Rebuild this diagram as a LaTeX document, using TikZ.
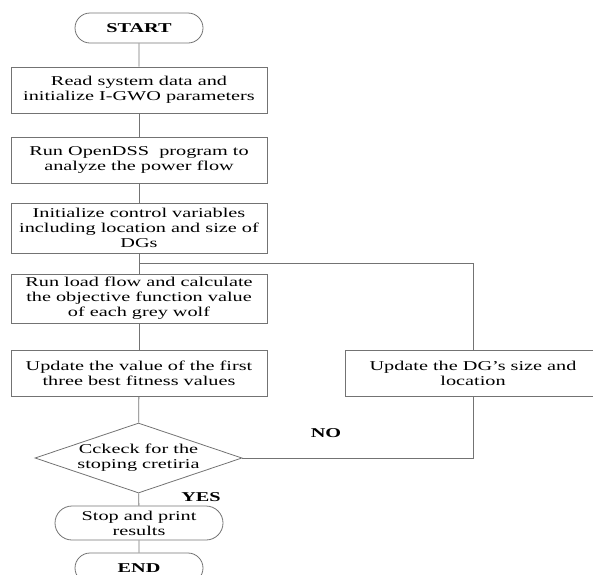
\documentclass[tikz,border=0pt]{standalone}
\usepackage{fontspec}
\setmainfont[FakeStretch=1.5]{Liberation Serif}
\usepackage{tikz}
\usetikzlibrary{shapes.misc,shapes.geometric}

\begin{document}
\begin{tikzpicture}[x=1pt, y=-1pt,
        every node/.style={font=\fontsize{13.5}{15}\selectfont, text=black},
        box/.style={rectangle, draw=black!55, line width=0.8pt, align=center, inner sep=2pt},
        term/.style={rounded rectangle, draw=black!55, line width=0.8pt, align=center, inner sep=2pt},
        flowline/.style={draw=black!55, line width=0.8pt}]
        \useasboundingbox (0,0) rectangle (593,574);

        % Start
        \node[term, minimum width=132pt, minimum height=30pt] (start) at (139,28) {\textbf{START}};

        % Main column
        \node[box, minimum width=256pt, minimum height=46pt] (rd) at (139,90)
            {Read system data and\\initialize I-GWO parameters};
        \node[box, minimum width=256pt, minimum height=46pt] (opendss) at (139,160)
            {Run OpenDSS\ \ program to\\analyze the power flow};
        \node[box, minimum width=256pt, minimum height=50pt] (init) at (139,228)
            {Initialize control variables\\including location and size of\\DGs};
        \node[box, minimum width=256pt, minimum height=49pt] (flow) at (139,298.5)
            {Run load flow and calculate\\the objective function value\\of each grey wolf};
        \node[box, minimum width=256pt, minimum height=46pt] (best) at (139,373)
            {Update the value of the first\\three best fitness values};

        % Decision
        \node[diamond, draw=black!55, line width=0.8pt, align=center, inner sep=0pt, aspect=2.95,
            minimum width=207pt, minimum height=70pt] (chk) at (138.5,458)
            {Cckeck for the\\stoping cretiria};
        \node (no) at (326,433) {\textbf{NO}};
        \node (yes) at (201,497) {\textbf{YES}};

        % Stop and end
        \node[term, minimum width=172pt, minimum height=34pt] (stp) at (139,523)
            {Stop and print\\results};
        \node[term, minimum width=132pt, minimum height=30pt] (fin) at (139,568) {\textbf{END}};

        % Feedback branch
        \node[box, minimum width=256pt, minimum height=46pt] (upd) at (473,373)
            {Update the DG’s size and\\location};
        \coordinate (join) at (139,263);

        % Connections
        \foreach \a/\b in {start/rd, rd/opendss, opendss/init, init/flow, flow/best, best/chk, chk/stp, stp/fin}
            \draw[flowline] (\a) -- (\b);
        \draw[flowline] (chk.east) -| (upd.south);
        \draw[flowline] (upd.north) |- (join);
\end{tikzpicture}
\end{document}
